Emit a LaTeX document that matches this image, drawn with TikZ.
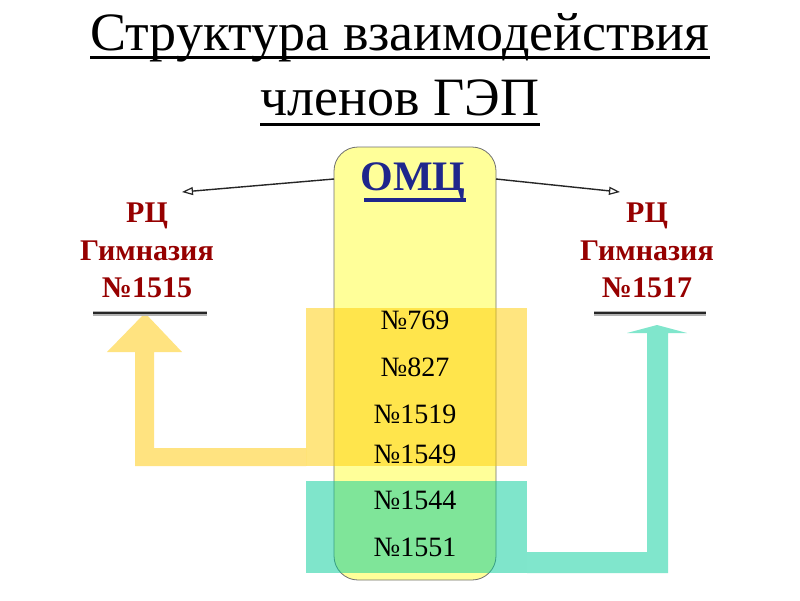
\documentclass[tikz,border=0pt]{standalone}
\usepackage{fontspec}
\setmainfont{Liberation Serif}
\usetikzlibrary{arrows.meta,calc}
\definecolor{colfill}{HTML}{FFFF99}
\definecolor{colline}{HTML}{707070}
\definecolor{bandY}{HTML}{FFCC00}
\definecolor{bandT}{HTML}{00CC99}
\definecolor{arrY}{HTML}{FFE380}
\definecolor{arrT}{HTML}{80E6CC}
\definecolor{omcblue}{HTML}{1F268C}
\definecolor{rcred}{HTML}{960000}
\begin{document}
\begin{tikzpicture}[x=1pt,y=-1pt,
  titletext/.style={inner sep=0pt, anchor=base, font=\fontsize{54}{60}\selectfont},
  tline/.style={line width=3pt, black},
  omctext/.style={inner sep=0pt, anchor=base, text=omcblue, font=\fontsize{42}{46}\selectfont\bfseries},
  rctext/.style={inner sep=0pt, anchor=base, text=rcred, font=\fontsize{30}{34}\selectfont\bfseries},
  numtext/.style={inner sep=0pt, anchor=base, font=\fontsize{28}{30}\selectfont},
  column/.style={draw=colline, line width=0.8pt, fill=colfill, rounded corners=24pt, minimum width=162pt, minimum height=433pt, inner sep=0pt},
  band/.style={fill opacity=0.5, draw=none},
  conn/.style={black!85, line width=1.4pt, -{Triangle[open, length=11pt, width=8pt, line width=1.2pt]}},
  barline/.style={line width=5pt, gray!60},
  barcore/.style={line width=2.2pt, black!85},
]
\useasboundingbox[fill=white] (0,0) rectangle (800,600);

% title
\node[titletext] (t1) at (400,50) {Структура взаимодействия};
\node[titletext] (t2) at (400,115) {членов ГЭП};
\draw[tline] ($(t1.base west)+(0,7.5)$) -- ($(t1.base east)+(0,7.5)$);
\draw[tline] ($(t2.base west)+(0,9.5)$) -- ($(t2.base east)+(0,9.5)$);

% central column
\node[column] (col) at (415,363.5) {};

% thick arrows
\draw[fill=arrY, draw=none] (306,448) -- (154,448) -- (154,352) -- (182,352) -- (145,313)
  -- (107,352) -- (135,352) -- (135,466) -- (306,466) -- cycle;
\draw[fill=arrT, draw=none] (527,552) -- (647,552) -- (647,333) -- (627,333) -- (657,325)
  -- (687,333) -- (668,333) -- (668,573) -- (527,573) -- cycle;

% bands
\fill[band, bandY] (306,308) rectangle (527,466);
\fill[band, bandT] (306,481) rectangle (527,573);

% OMC
\node[omctext] (omc) at (413,190) {ОМЦ};
\draw[omcblue, line width=4pt] ($(omc.base west)+(4,10)$) -- ($(omc.base east)+(0,10)$);

% RC nodes
\node[rctext] (l1) at (147,222) {РЦ};
\node[rctext] (l2) at (147,260) {Гимназия};
\node[rctext] (l3) at (147,297) {№1515};
\node[rctext] (r1) at (647,222) {РЦ};
\node[rctext] (r2) at (647,260) {Гимназия};
\node[rctext] (r3) at (647,297) {№1517};

% bars under RC
\coordinate (lb1) at (93,313);
\coordinate (lb2) at (207,313);
\coordinate (rb1) at (594,313);
\coordinate (rb2) at (706,313);
\draw[barline] (lb1) -- (lb2);
\draw[barcore] (lb1) -- (lb2);
\draw[barline] (rb1) -- (rb2);
\draw[barcore] (rb1) -- (rb2);

% connectors from column
\coordinate (cl) at (334,179);
\coordinate (cr) at (496,179);
\coordinate (tl) at (182,192);
\coordinate (tr) at (620,192);
\draw[conn] (cl) -- (tl);
\draw[conn] (cr) -- (tr);

% numbers
\node[numtext] (n1) at (415,329) {№769};
\node[numtext] (n2) at (415,376) {№827};
\node[numtext] (n3) at (415,423) {№1519};
\node[numtext] (n4) at (415,463) {№1549};
\node[numtext] (n5) at (415,509) {№1544};
\node[numtext] (n6) at (415,556) {№1551};
\end{tikzpicture}
\end{document}
